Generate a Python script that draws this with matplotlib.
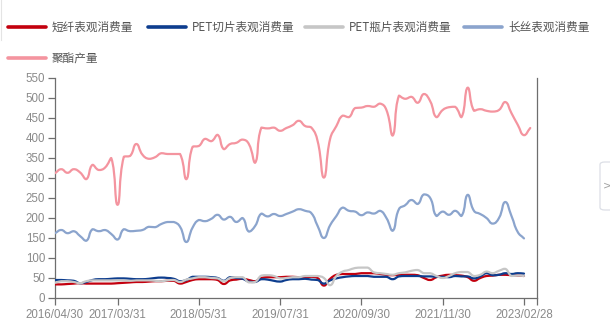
import numpy as np
import matplotlib
matplotlib.use("Agg")
import matplotlib.pyplot as plt
from matplotlib.path import Path
from matplotlib.patches import PathPatch, FancyBboxPatch
from matplotlib.lines import Line2D

categories = (
    ["2016/04/30", "2016/05/31", "2016/06/30", "2016/07/31", "2016/08/31", "2016/09/30",
     "2016/10/31", "2016/11/30", "2016/12/31"]
    + ["2017/02/28", "2017/03/31", "2017/04/30", "2017/05/31", "2017/06/30", "2017/07/31",
       "2017/08/31", "2017/09/30", "2017/10/31", "2017/11/30", "2017/12/31"]
    + ["2018/02/28", "2018/03/31", "2018/04/30", "2018/05/31", "2018/06/30", "2018/07/31",
       "2018/08/31", "2018/09/30", "2018/10/31", "2018/11/30", "2018/12/31"]
    + ["2019/02/28", "2019/03/31", "2019/04/30", "2019/05/31", "2019/06/30", "2019/07/31",
       "2019/08/31", "2019/09/30", "2019/10/31", "2019/11/30", "2019/12/31"]
    + ["2020/02/29", "2020/03/31", "2020/04/30", "2020/05/31", "2020/06/30", "2020/07/31",
       "2020/08/31", "2020/09/30", "2020/10/31", "2020/11/30", "2020/12/31"]
    + ["2021/02/28", "2021/03/31", "2021/04/30", "2021/05/31", "2021/06/30", "2021/07/31",
       "2021/08/31", "2021/09/30", "2021/10/31", "2021/11/30", "2021/12/31"]
    + ["2022/02/28", "2022/03/31", "2022/04/30", "2022/05/31", "2022/06/30", "2022/07/31",
       "2022/08/31", "2022/09/30", "2022/10/31", "2022/11/30", "2022/12/31"]
    + ["2023/02/28", "2023/03/31", "2023/04/30"]
)

tick_labels = ["2016/04/30", "2017/03/31", "2018/05/31", "2019/07/31",
               "2020/09/30", "2021/11/30", "2023/02/28"]

series_names = ["短纤表观消费量", "PET切片表观消费量", "PET瓶片表观消费量", "长丝表观消费量", "聚酯产量"]

staple = [34, 34, 35, 36, 37, 36, 36, 36, 36, 36, 37, 38, 39, 40, 40, 41, 42, 42, 43, 43,
          36, 40, 45, 47, 47, 47, 45, 35, 44, 46, 48, 45, 42, 50, 52, 52, 52, 53, 53, 52,
          52, 53, 50, 31, 48, 58, 60, 60, 60, 62, 62, 62, 60, 58, 57, 58, 58, 58, 57, 50,
          45, 52, 56, 58, 57, 56, 52, 43, 50, 55, 56, 58, 58, 57, 56, 55]

chips = [45, 45, 44, 43, 37, 40, 45, 47, 47, 48, 49, 49, 48, 47, 47, 48, 50, 51, 50, 48,
         42, 45, 53, 53, 53, 52, 50, 43, 52, 50, 48, 41, 40, 47, 46, 43, 41, 45, 47, 47,
         48, 46, 45, 36, 44, 49, 52, 54, 55, 55, 55, 53, 53, 53, 47, 54, 55, 55, 55, 54,
         54, 53, 53, 52, 55, 54, 54, 49, 54, 62, 57, 58, 62, 60, 62, 61]

bottle = [38, 42, 42, 40, 37, 42, 44, 44, 44, 44, 44, 44, 43, 44, 44, 44, 43, 42, 44, 45,
          40, 46, 49, 52, 52, 50, 49, 42, 50, 52, 52, 39, 40, 56, 57, 55, 49, 50, 52, 52,
          55, 55, 55, 50, 32, 55, 66, 70, 75, 76, 76, 64, 62, 60, 58, 62, 64, 68, 70, 62,
          62, 55, 50, 55, 62, 65, 65, 55, 58, 66, 62, 68, 73, 55, 56, 55]

filament = [162, 170, 162, 167, 155, 143, 172, 167, 170, 160, 146, 172, 167, 168, 170, 178,
            177, 185, 190, 190, 178, 140, 176, 195, 192, 198, 208, 196, 203, 190, 200, 166,
            180, 211, 204, 210, 205, 210, 216, 222, 218, 212, 180, 150, 182, 205, 226, 218,
            216, 207, 214, 211, 218, 200, 168, 222, 232, 245, 235, 259, 250, 205, 216, 208,
            218, 205, 258, 218, 210, 200, 186, 200, 240, 205, 165, 149]

polyester = [312, 322, 313, 322, 314, 297, 333, 320, 326, 350, 233, 353, 355, 385, 358, 348,
             352, 362, 360, 360, 360, 297, 378, 380, 398, 392, 408, 372, 385, 388, 396, 385,
             338, 426, 424, 426, 418, 425, 432, 443, 430, 426, 392, 301, 398, 430, 456, 452,
             475, 476, 480, 478, 486, 470, 406, 506, 498, 503, 488, 510, 492, 452, 470, 477,
             478, 452, 526, 468, 472, 468, 466, 470, 490, 462, 433, 407, 425]

colors = ["#c3000e", "#0d3d8e", "#c6c6c6", "#8ba4cd", "#f4949f"]
all_series = [staple, chips, bottle, filament, polyester]

W, H = 610, 324
fig = plt.figure(figsize=(W / 100, H / 100), dpi=100)
L, R, T, B = 55, 536.5, 78, 298
ax = fig.add_axes([L / W, 1 - B / H, (R - L) / W, (B - T) / H])

ncat = len(categories)
ax.set_xlim(0, ncat - 1)
ax.set_ylim(0, 550)

# pixel scale used for ECharts-like smoothing
sx = (R - L) / (ncat - 1)
sy = (B - T) / 550.0


def smooth_path(vals, smooth=0.5):
    n = len(vals)
    P = np.column_stack([np.arange(n) * sx, np.asarray(vals, float) * sy])
    cin = np.zeros_like(P)
    cout = np.zeros_like(P)
    for i in range(n):
        prev = P[i - 1] if i > 0 else P[i]
        nxt = P[i + 1] if i < n - 1 else P[i]
        v = nxt - prev
        d0 = np.hypot(*(P[i] - prev))
        d1 = np.hypot(*(nxt - P[i]))
        s = d0 + d1
        r0, r1 = (d0 / s, d1 / s) if s > 0 else (0, 0)
        cin[i] = P[i] - v * smooth * r0
        cout[i] = P[i] + v * smooth * r1
        if i > 0:
            lo, hi = sorted([P[i - 1, 1], P[i, 1]])
            cin[i, 1] = min(max(cin[i, 1], lo), hi)
        if i < n - 1:
            lo, hi = sorted([P[i, 1], P[i + 1, 1]])
            cout[i, 1] = min(max(cout[i, 1], lo), hi)
    verts = [P[0]]
    codes = [Path.MOVETO]
    for i in range(n - 1):
        verts += [cout[i], cin[i + 1], P[i + 1]]
        codes += [Path.CURVE4] * 3
    verts = np.array(verts)
    verts[:, 0] /= sx
    verts[:, 1] /= sy
    return Path(verts, codes)


for vals, c in zip(all_series, colors):
    patch = PathPatch(smooth_path(vals), facecolor="none", edgecolor=c, lw=1.6,
                      capstyle="round", joinstyle="round", zorder=3)
    ax.add_patch(patch)

# axes styling
axis_col = "#6e6e6e"
label_col = "#8a8a8a"
ax.spines["top"].set_visible(False)
for side in ["left", "bottom", "right"]:
    ax.spines[side].set_color(axis_col)
    ax.spines[side].set_linewidth(0.9)

ax.set_yticks(np.arange(0, 551, 50))
ax.tick_params(axis="y", direction="out", length=5, width=0.9, color=axis_col,
               labelcolor=label_col, labelsize=8.3, pad=2)
tick_pos = [categories.index(t) for t in tick_labels] + [ncat - 1]
ax.set_xticks(tick_pos)
ax.set_xticklabels(tick_labels + [""])
ax.tick_params(axis="x", direction="out", length=5, width=0.9, color=axis_col,
               labelcolor=label_col, labelsize=8.3, pad=3)
for lab in ax.get_xticklabels() + ax.get_yticklabels():
    lab.set_family(["Liberation Sans", "DejaVu Sans"])
ax.tick_params(axis="y", right=False)

# legend (manual, ECharts-like)
leg_font = ["Noto Sans CJK SC", "DejaVu Sans"]
leg_items = [(8, 27), (148, 27), (305, 27), (464, 27), (8, 58)]
for (x0, y0), name, c in zip(leg_items, series_names, colors):
    fig.add_artist(Line2D([x0 / W, (x0 + 38) / W], [1 - y0 / H, 1 - y0 / H],
                          color=c, lw=2.6, solid_capstyle="round"))
    fig.text((x0 + 44) / W, 1 - y0 / H, name, ha="left", va="center",
             fontsize=8.4, color="#555555", family=leg_font)

# right-edge page button
btn = FancyBboxPatch((600 / W, 1 - 210 / H), 20 / W, 48 / H,
                     boxstyle="round,pad=0,rounding_size=0.008",
                     transform=fig.transFigure, facecolor="white",
                     edgecolor="#dcdfe6", lw=0.9)
fig.add_artist(btn)
fig.text(602.5 / W, 1 - 186 / H, ">", ha="left", va="center", fontsize=7.5,
         color="#a0a0a0", family=["DejaVu Sans"])
fig.add_artist(Line2D([1 / W, 1 / W], [1, 1 - 40 / H], color="#e4e4e4", lw=0.8))

fig.savefig("out.png", dpi=100)
